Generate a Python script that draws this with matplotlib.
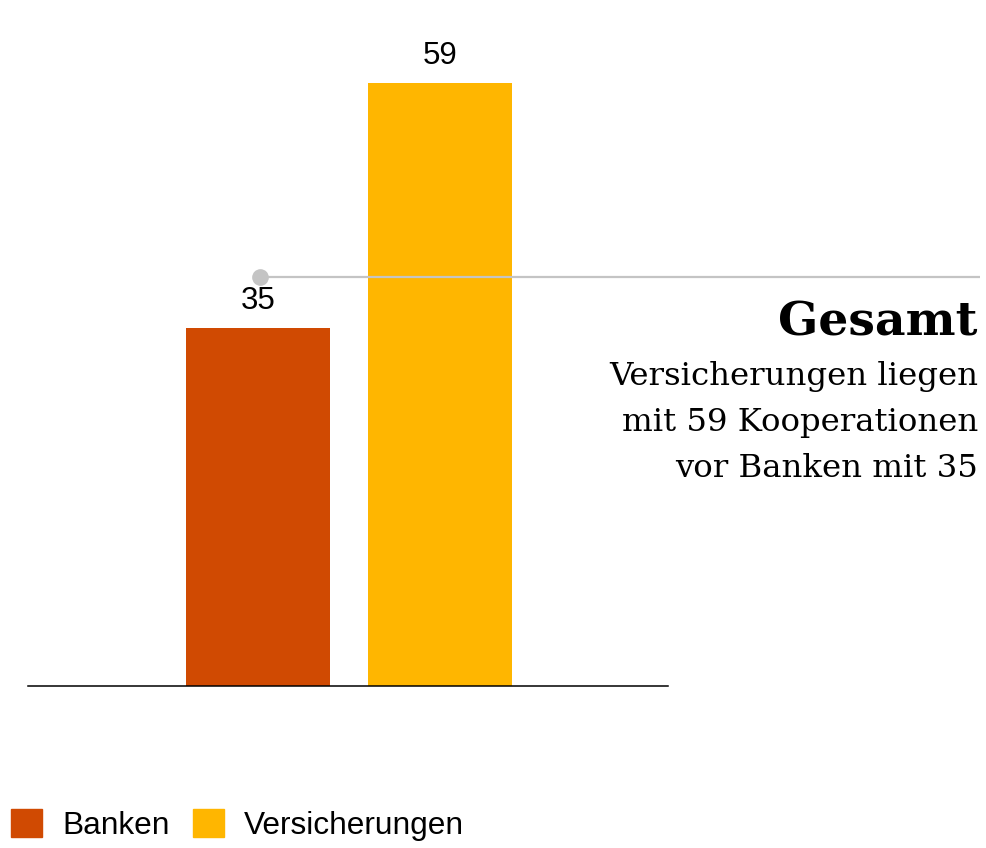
import matplotlib.pyplot as plt
from matplotlib.patches import Patch

# Daten
categories = ['Banken', 'Versicherungen']
values = [35, 59]
colors = ['#D04A02', '#FFB600']
total_marker = 40  # graue Referenzlinie "Gesamt"

title = 'Gesamt'
subtitle = ['Versicherungen liegen', 'mit 59 Kooperationen', 'vor Banken mit 35']

W, H = 987, 848
fig = plt.figure(figsize=(W / 100, H / 100), dpi=100)

# Achse: Grundlinie bei y=686px, x von 28 bis 668px
ax = fig.add_axes([28 / W, (H - 686) / H, 640 / W, 686 / H])
x = [0, 1]
ax.bar(x, values, width=144 / 182, color=colors, zorder=2)
ax.set_xlim(-230 / 182, 1 + 228 / 182)
ax.set_ylim(0, 686 / 10.22)

for s in ['top', 'right', 'left']:
    ax.spines[s].set_visible(False)
ax.spines['bottom'].set_linewidth(1.1)
ax.set_xticks([])
ax.set_yticks([])

for xi, v in zip(x, values):
    ax.annotate(str(v), (xi, v), xytext=(0, 19), textcoords='offset pixels',
                ha='center', va='baseline', fontsize=22.5,
                family='Liberation Sans', color='black')

# graue Linie mit Punkt
x0 = 2 / 182
x1 = (980 - 258) / 182
ax.plot([x0, x1], [total_marker, total_marker], color='#C4C4C4', lw=1.6,
        clip_on=False, zorder=3, solid_capstyle='butt')
ax.plot([x0], [total_marker], 'o', color='#C4C4C4', markersize=11,
        clip_on=False, zorder=3)

# Textblock rechts
fig.text(978 / W, 1 - 336 / H, title, ha='right', va='baseline',
         fontsize=34, fontweight='bold', family='DejaVu Serif')
for i, line in enumerate(subtitle):
    fig.text(978 / W, 1 - (385 + i * 46) / H, line, ha='right', va='baseline',
             fontsize=23.3, family='DejaVu Serif')

# Legende
handles = [Patch(color=c) for c in colors]
fig.legend(handles, categories, loc='lower left',
           bbox_to_anchor=(11 / W, 7 / H), ncol=2, frameon=False,
           borderpad=0, borderaxespad=0, handlelength=0.98, handleheight=0.98,
           handletextpad=0.63, columnspacing=0.75,
           prop={'family': 'Liberation Sans', 'size': 22.8})

fig.savefig('out.png', dpi=100)
